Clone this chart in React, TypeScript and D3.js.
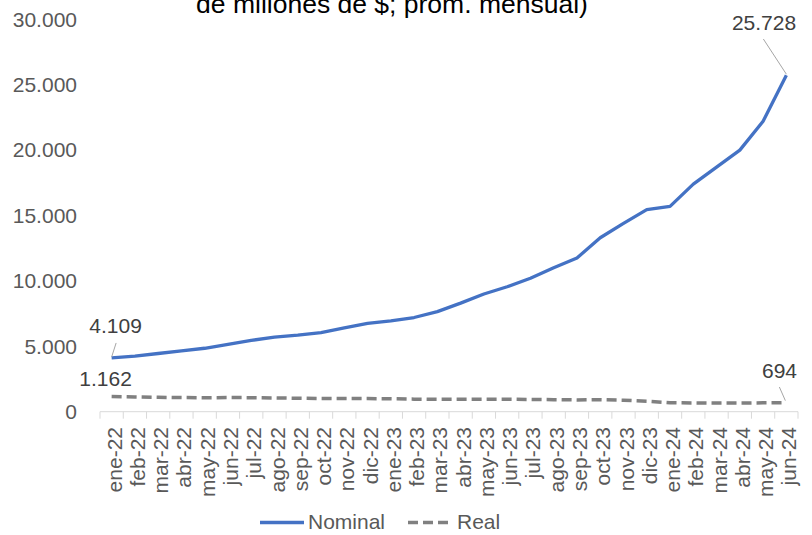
import React from "react";
import * as d3 from "d3";

const categories = [
  "ene-22", "feb-22", "mar-22", "abr-22", "may-22", "jun-22", "jul-22", "ago-22", "sep-22", "oct-22", "nov-22", "dic-22",
  "ene-23", "feb-23", "mar-23", "abr-23", "may-23", "jun-23", "jul-23", "ago-23", "sep-23", "oct-23", "nov-23", "dic-23",
  "ene-24", "feb-24", "mar-24", "abr-24", "may-24", "jun-24",
];

const nominal = [
  4109, 4250, 4450, 4650, 4850, 5150, 5450, 5700, 5850, 6050, 6400, 6750,
  6950, 7200, 7650, 8300, 9000, 9550, 10200, 11000, 11750, 13300, 14400, 15450,
  15700, 17400, 18700, 20000, 22200, 25728,
];

const real = [
  1162, 1130, 1100, 1080, 1070, 1080, 1075, 1050, 1030, 1010, 1000, 1000,
  990, 960, 950, 950, 950, 950, 940, 920, 900, 920, 880, 800,
  680, 670, 660, 660, 680, 694,
];

const yTicks = [0, 5000, 10000, 15000, 20000, 25000, 30000];
const titleLine = "de millones de $; prom. mensual)";
const seriesNames = ["Nominal", "Real"];

const fmt = (v: number) => d3.format(",")(v).replace(/,/g, ".");

export default function App() {
  const W = 812, H = 535;
  const x = d3.scaleBand<string>().domain(categories).range([100, 798]);
  const cx = (c: string) => (x(c) as number) + x.bandwidth() / 2;
  const y = d3.scaleLinear().domain([0, 30000]).range([411.7, 19.3]);
  const font = "'Liberation Sans', Arial, sans-serif";
  const axisColor = "#595959";
  const labelColor = "#404040";

  const line = d3.line<number>()
    .x((_, i) => cx(categories[i]))
    .y((d) => y(d));

  const n = categories.length;
  const first = categories[0];
  const last = categories[n - 1];

  return (
    <svg width={W} height={H} style={{ position: "absolute", left: 0, top: 0 }} fontFamily={font}>
      <rect width={W} height={H} fill="#fff" />
      {/* title (second line only visible) */}
      <text x={392} y={13} textAnchor="middle" fontSize={26.5} fill="#000">{titleLine}</text>

      {/* y axis labels */}
      {yTicks.map((t) => (
        <text key={t} x={77} y={y(t)} dy="0.35em" textAnchor="end" fontSize={21} fill={axisColor}>{fmt(t)}</text>
      ))}

      {/* x axis */}
      <line x1={100} x2={798} y1={y(0)} y2={y(0)} stroke="#D9D9D9" strokeWidth={1} />
      {d3.range(n + 1).map((i) => {
        const xx = 100 + i * x.step();
        return <line key={i} x1={xx} x2={xx} y1={y(0)} y2={y(0) + 7} stroke="#D9D9D9" strokeWidth={1} />;
      })}
      {categories.map((c) => (
        <text key={c} transform={`translate(${cx(c)},${427}) rotate(-90)`} dy={10} textAnchor="end" fontSize={21} fill={axisColor}>{c}</text>
      ))}

      {/* series */}
      <path d={line(real) as string} fill="none" stroke="#808080" strokeWidth={3.5} strokeDasharray="10,5" />
      <path d={line(nominal) as string} fill="none" stroke="#4472C4" strokeWidth={3.3} strokeLinejoin="round" />

      {/* data labels with leader lines */}
      <line x1={cx(first)} y1={y(nominal[0]) - 1} x2={cx(first) + 4.5} y2={y(nominal[0]) - 15} stroke="#A6A6A6" strokeWidth={1} />
      <text x={cx(first) + 4} y={333} textAnchor="middle" fontSize={21} fill={labelColor}>{fmt(nominal[0])}</text>
      <text x={cx(first) - 6} y={386} textAnchor="middle" fontSize={21} fill={labelColor}>{fmt(real[0])}</text>

      <line x1={cx(last)} y1={y(nominal[n - 1]) - 1} x2={cx(last) - 23} y2={39} stroke="#A6A6A6" strokeWidth={1} />
      <text x={764} y={30} textAnchor="middle" fontSize={21} fill={labelColor}>{fmt(nominal[n - 1])}</text>

      <line x1={cx(last) - 1} y1={y(real[n - 1]) - 2} x2={cx(last) - 7} y2={387} stroke="#A6A6A6" strokeWidth={1} />
      <text x={779.5} y={378} textAnchor="middle" fontSize={21} fill={labelColor}>{fmt(real[n - 1])}</text>

      {/* legend */}
      <line x1={260} x2={304} y1={522.5} y2={522.5} stroke="#4472C4" strokeWidth={3.3} />
      <text x={308} y={529} fontSize={21} fill={axisColor}>{seriesNames[0]}</text>
      <line x1={408} x2={452} y1={522.5} y2={522.5} stroke="#808080" strokeWidth={3.5} strokeDasharray="10,5" />
      <text x={457} y={529} fontSize={21} fill={axisColor}>{seriesNames[1]}</text>
    </svg>
  );
}
